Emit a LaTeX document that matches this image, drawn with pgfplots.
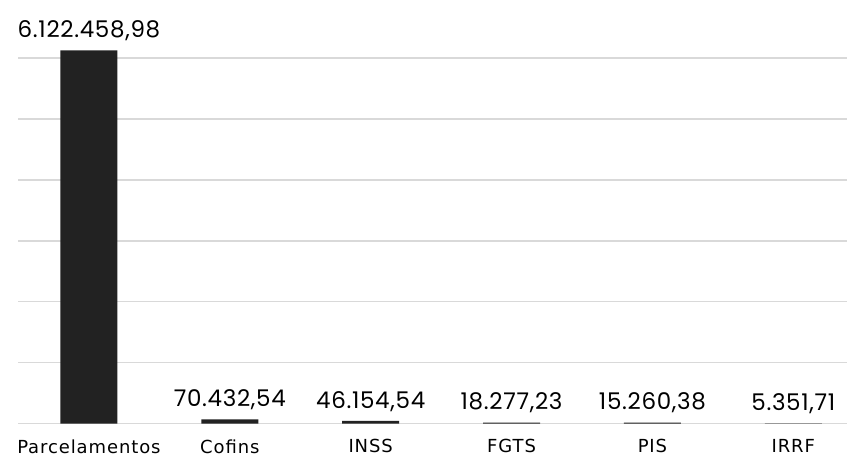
\documentclass[border=0pt]{standalone}
\usepackage{fontspec}
\setmainfont{DejaVu Sans}[LetterSpace=5]
\newfontfamily\valfont{Poppins}[LetterSpace=3]
\usepackage{pgfplots}
\pgfplotsset{compat=1.18}
\definecolor{barcol}{HTML}{222222}
\definecolor{gridcol}{HTML}{D9D9D9}
\begin{document}
\begin{tikzpicture}
\begin{axis}[
    scale only axis, width=829.5pt, height=384.3pt,
    xmin=-0.5, xmax=5.383, ymin=0, ymax=6300000,
    axis line style={draw=none}, tick style={draw=none},
    ymajorgrids, grid style={gridcol, line width=1.5pt},
    ytick={0,1000000,2000000,3000000,4000000,5000000,6000000},
    yticklabels={}, scaled y ticks=false,
    xtick=data,
    xticklabels={Parcelamentos,Cofins,INSS,FGTS,PIS,IRRF},
    x tick label style={font=\fontsize{18}{20}\selectfont, text=black, yshift=-8pt},
    ybar, bar width=57pt,
    nodes near coords, point meta=explicit symbolic,
    nodes near coords style={font=\valfont\fontsize{23}{26}\selectfont, text=black, anchor=south, yshift=6pt},
    clip=false,
  ]
  \addplot[fill=barcol, draw=none] coordinates {
    (0,6122458.98) [6.122.458,98]
    (1,70432.54) [70.432,54]
    (2,46154.54) [46.154,54]
    (3,18277.23) [18.277,23]
    (4,15260.38) [15.260,38]
    (5,5351.71) [5.351,71]
  };
  \coordinate (o) at (rel axis cs:0,0);
\end{axis}
\path ([shift={(-18.5pt,-34pt)}]o) rectangle ([shift={(829.5pt,424pt)}]o);
\end{tikzpicture}
\end{document}
